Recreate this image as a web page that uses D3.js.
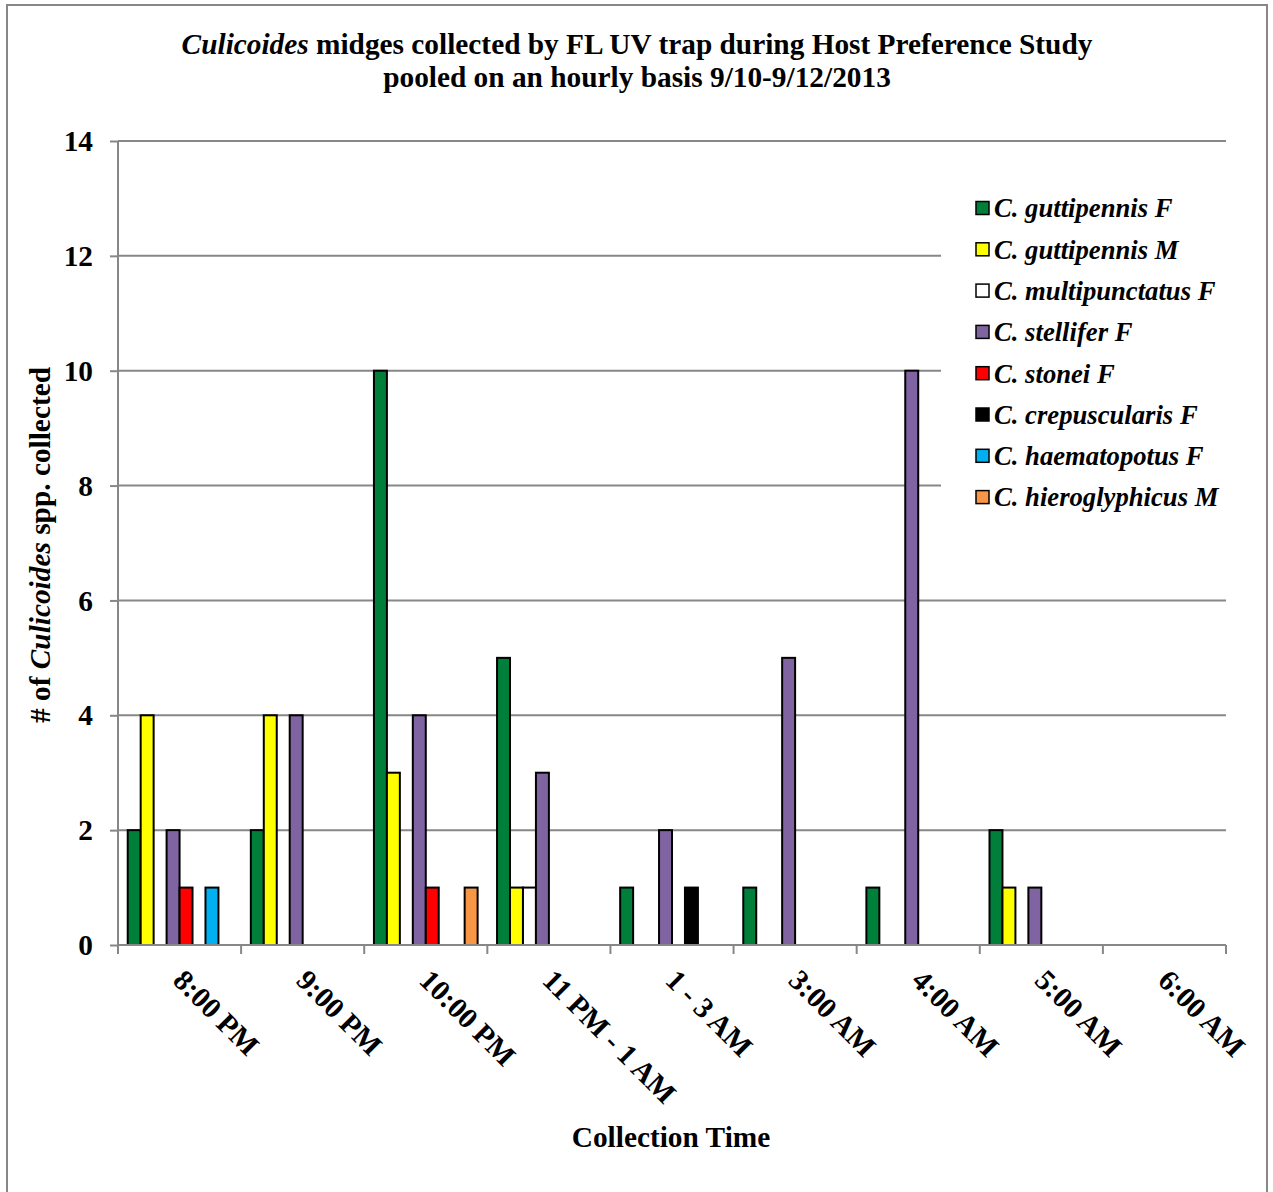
<!DOCTYPE html>
<html>
<head>
<meta charset="utf-8">
<script src="https://cdn.jsdelivr.net/npm/d3@7"></script>
<style>
  html, body { margin: 0; padding: 0; background: #fff; }
  svg { display: block; font-family: "Liberation Serif", "Times New Roman", serif; }
</style>
</head>
<body>
<svg id="chart" width="1273" height="1192"></svg>
<script>
// Collection periods (x categories)
const categories = ["8:00 PM", "9:00 PM", "10:00 PM", "11 PM - 1 AM", "1 - 3 AM", "3:00 AM", "4:00 AM", "5:00 AM", "6:00 AM"];

// Species / sex series names
const seriesNames = ["C. guttipennis F", "C. guttipennis M", "C. multipunctatus F", "C. stellifer F",
                     "C. stonei F", "C. crepuscularis F", "C. haematopotus F", "C. hieroglyphicus M"];
const seriesColors = ["#007f3a", "#ffff00", "#ffffff", "#8064a2", "#ff0000", "#000000", "#00b0f0", "#f79646"];

// Counts per series, one value per collection period
const guttipennisF    = [2, 2, 10, 5, 1, 1, 1, 2, 0];
const guttipennisM    = [4, 4, 3, 1, 0, 0, 0, 1, 0];
const multipunctatusF = [0, 0, 0, 1, 0, 0, 0, 0, 0];
const stelliferF      = [2, 4, 4, 3, 2, 5, 10, 1, 0];
const stoneiF         = [1, 0, 1, 0, 0, 0, 0, 0, 0];
const crepuscularisF  = [0, 0, 0, 0, 1, 0, 0, 0, 0];
const haematopotusF   = [1, 0, 0, 0, 0, 0, 0, 0, 0];
const hieroglyphicusM = [0, 0, 1, 0, 0, 0, 0, 0, 0];

const yTicks = [0, 2, 4, 6, 8, 10, 12, 14];

const seriesValues = [guttipennisF, guttipennisM, multipunctatusF, stelliferF,
                      stoneiF, crepuscularisF, haematopotusF, hieroglyphicusM];

const svg = d3.select("#chart");
const W = 1273, H = 1192;
const plot = { left: 118, right: 1226, top: 141, bottom: 945 };
const GRID = "#878787";
const BIG = 29.33, LEG = 26.67;

// Outer chart-area frame
svg.append("rect")
  .attr("x", 7).attr("y", 5).attr("width", 1260).attr("height", H + 10)
  .attr("fill", "#fff").attr("stroke", GRID).attr("stroke-width", 2);

const x = d3.scaleBand().domain(categories).range([plot.left, plot.right]).padding(0);
const catW = x.bandwidth();
const barW = catW / 9.5; // clustered bars with a 150% gap
const xs = d3.scaleBand().domain(d3.range(seriesNames.length))
  .range([barW * 0.75, catW - barW * 0.75]).padding(0);
const y = d3.scaleLinear().domain([0, 14]).range([plot.bottom, plot.top]);

// Horizontal gridlines
svg.append("g").selectAll("line").data(yTicks.filter(d => d > 0)).join("line")
  .attr("x1", plot.left).attr("x2", plot.right)
  .attr("y1", d => y(d)).attr("y2", d => y(d))
  .attr("stroke", GRID).attr("stroke-width", 2);

// Y axis
const yAxis = svg.append("g").attr("transform", `translate(${plot.left},0)`)
  .call(d3.axisLeft(y).tickValues(yTicks).tickSize(8).tickPadding(17));
yAxis.select(".domain").attr("stroke", GRID).attr("stroke-width", 2).attr("d", `M0,${plot.top}V${plot.bottom}`);
yAxis.selectAll(".tick line").attr("stroke", GRID).attr("stroke-width", 2);
yAxis.selectAll(".tick text")
  .attr("font-family", "Liberation Serif").attr("font-weight", "bold")
  .attr("font-size", BIG).attr("fill", "#000").attr("dy", "0.33em");

// Bars
const groups = svg.append("g").selectAll("g").data(categories).join("g")
  .attr("transform", d => `translate(${x(d)},0)`);
groups.selectAll("rect")
  .data((c, ci) => seriesValues.map((vals, si) => ({ si, v: vals[ci] })).filter(d => d.v > 0))
  .join("rect")
  .attr("x", d => xs(d.si))
  .attr("width", xs.bandwidth())
  .attr("y", d => y(d.v))
  .attr("height", d => y(0) - y(d.v))
  .attr("fill", d => seriesColors[d.si])
  .attr("stroke", "#000").attr("stroke-width", 2);

// X axis
const xAxisG = svg.append("g").attr("transform", `translate(0,${plot.bottom})`);
xAxisG.append("line").attr("x1", plot.left).attr("x2", plot.right)
  .attr("stroke", GRID).attr("stroke-width", 2);
const bounds = categories.map(c => x(c)).concat([plot.right]);
xAxisG.selectAll("line.tk").data(bounds).join("line").attr("class", "tk")
  .attr("x1", d => d).attr("x2", d => d).attr("y1", 0).attr("y2", 9)
  .attr("stroke", GRID).attr("stroke-width", 2);
xAxisG.selectAll("text").data(categories).join("text")
  .attr("transform", d => `translate(${x(d) + catW / 2 - 8},${37}) rotate(45)`)
  .attr("font-weight", "bold").attr("font-size", BIG).attr("fill", "#000")
  .text(d => d);

// Legend
const legend = svg.append("g");
legend.append("rect").attr("x", 941).attr("y", 186).attr("width", 287).attr("height", 334).attr("fill", "#fff");
const li = legend.selectAll("g").data(seriesNames).join("g")
  .attr("transform", (d, i) => `translate(976,${208 + i * 41.3})`);
li.append("rect").attr("x", 0).attr("y", -6.5).attr("width", 13).attr("height", 13)
  .attr("fill", (d, i) => seriesColors[i]).attr("stroke", "#000").attr("stroke-width", 1.5);
li.append("text").attr("x", 18).attr("dy", "0.35em")
  .attr("font-weight", "bold").attr("font-style", "italic").attr("font-size", LEG)
  .text(d => d);

// Title
const title = svg.append("text").attr("text-anchor", "middle")
  .attr("font-weight", "bold").attr("font-size", BIG).attr("fill", "#000");
const t1 = title.append("tspan").attr("x", 637).attr("y", 54);
t1.append("tspan").attr("font-style", "italic").text("Culicoides");
t1.append("tspan").text(" midges collected by FL UV trap during Host Preference Study");
title.append("tspan").attr("x", 637).attr("y", 87).text("pooled on an hourly basis 9/10-9/12/2013");

// Axis titles
svg.append("text").attr("x", 671).attr("y", 1147).attr("text-anchor", "middle")
  .attr("font-weight", "bold").attr("font-size", BIG).text("Collection Time");
const yt = svg.append("text").attr("transform", "translate(50,545) rotate(-90)")
  .attr("text-anchor", "middle").attr("font-weight", "bold").attr("font-size", BIG);
yt.append("tspan").text("# of ");
yt.append("tspan").attr("font-style", "italic").text("Culicoides");
yt.append("tspan").text(" spp. collected");
</script>
</body>
</html>
